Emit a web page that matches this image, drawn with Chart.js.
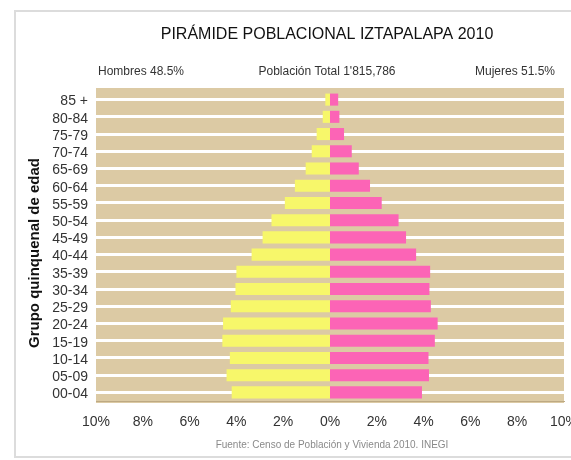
<!DOCTYPE html>
<html><head><meta charset="utf-8">
<script src="https://cdn.jsdelivr.net/npm/chart.js@4/dist/chart.umd.min.js"></script>
<style>html,body{margin:0;padding:0;background:#fff;overflow:hidden}</style>
</head><body>
<canvas id="c" width="571" height="460"></canvas>
<script>
const grupos = ['85 +','80-84','75-79','70-74','65-69','60-64','55-59','50-54','45-49','40-44','35-39','30-34','25-29','20-24','15-19','10-14','05-09','00-04'];
const hombres = [0.2,0.31,0.57,0.78,1.04,1.5,1.93,2.5,2.88,3.35,4.0,4.04,4.24,4.57,4.6,4.28,4.42,4.2];
const mujeres = [0.35,0.4,0.6,0.93,1.23,1.71,2.21,2.93,3.25,3.68,4.28,4.25,4.31,4.6,4.48,4.21,4.23,3.93];
const xMin = -10, xMax = 10, xStep = 2;
const titulo = 'PIRÁMIDE POBLACIONAL IZTAPALAPA 2010';
const subIzq = 'Hombres 48.5%';
const subCentro = "Población Total 1'815,786";
const subDer = 'Mujeres 51.5%';
const tituloEje = 'Grupo quinquenal de edad';
const fuente = 'Fuente: Censo de Población y Vivienda 2010. INEGI';

const FONT = 'Arial, "Liberation Sans", sans-serif';

const bgPlugin = {
  id: 'bg',
  beforeDraw(chart) {
    const {ctx, chartArea: a} = chart;
    ctx.save();
    ctx.fillStyle = '#fff';
    ctx.fillRect(0, 0, chart.width, chart.height);
    ctx.strokeStyle = '#dcdcdc';
    ctx.lineWidth = 2;
    ctx.strokeRect(15, 11, chart.width + 10, 446);
    ctx.fillStyle = '#dccaa4';
    ctx.fillRect(a.left, a.top - 3, a.right - a.left, a.bottom - a.top + 5);
    ctx.restore();
  },
  afterDraw(chart) {
    const {ctx} = chart;
    ctx.save();
    ctx.textBaseline = 'middle';
    ctx.fillStyle = '#111';
    ctx.font = '16px ' + FONT;
    ctx.textAlign = 'center';
    ctx.fillText(titulo, 327, 35);
    ctx.fillStyle = '#333';
    ctx.font = '12px ' + FONT;
    ctx.textAlign = 'left';
    ctx.fillText(subIzq, 98, 72);
    ctx.textAlign = 'center';
    ctx.fillText(subCentro, 327, 72);
    ctx.textAlign = 'right';
    ctx.fillText(subDer, 555, 72);
    ctx.fillStyle = '#8a8a8a';
    ctx.font = '10px ' + FONT;
    ctx.textAlign = 'center';
    ctx.fillText(fuente, 332, 445);
    ctx.translate(35, 253);
    ctx.rotate(-Math.PI / 2);
    ctx.fillStyle = '#111';
    ctx.font = 'bold 15px ' + FONT;
    ctx.fillText(tituloEje, 0, 0);
    ctx.restore();
  }
};

new Chart(document.getElementById('c'), {
  type: 'bar',
  data: {
    labels: grupos,
    datasets: [
      {label: 'Hombres', data: hombres.map(v => -v), backgroundColor: '#f7f76a', borderWidth: 0, categoryPercentage: 1, barPercentage: 0.7},
      {label: 'Mujeres', data: mujeres, backgroundColor: '#fc64b6', borderWidth: 0, categoryPercentage: 1, barPercentage: 0.7}
    ]
  },
  options: {
    indexAxis: 'y',
    responsive: false,
    animation: false,
    layout: {padding: {top: 91, left: 0, right: 7, bottom: 0}},
    plugins: {legend: {display: false}, tooltip: {enabled: false}, title: {display: false}},
    scales: {
      x: {
        type: 'linear', min: xMin, max: xMax, stacked: true,
        afterFit(s) { s.height = 59; s.paddingLeft = 0; s.paddingRight = 0; },
        grid: {display: false, drawTicks: false},
        border: {display: true, color: '#bda983', width: 1},
        ticks: {stepSize: xStep, padding: 13, color: '#333', font: {size: 14, family: FONT},
          maxRotation: 0, callback: v => Math.abs(v) + '%'}
      },
      y: {
        type: 'category', stacked: true,
        afterFit(s) { s.width = 96; s.paddingTop = 0; s.paddingBottom = 0; },
        grid: {color: '#ffffff', lineWidth: 3, offset: false, drawTicks: false},
        border: {display: false},
        ticks: {autoSkip: false, padding: 8, labelOffset: 2, color: '#333', font: {size: 14, family: FONT}}
      }
    }
  },
  plugins: [bgPlugin]
});
</script>
</body></html>
